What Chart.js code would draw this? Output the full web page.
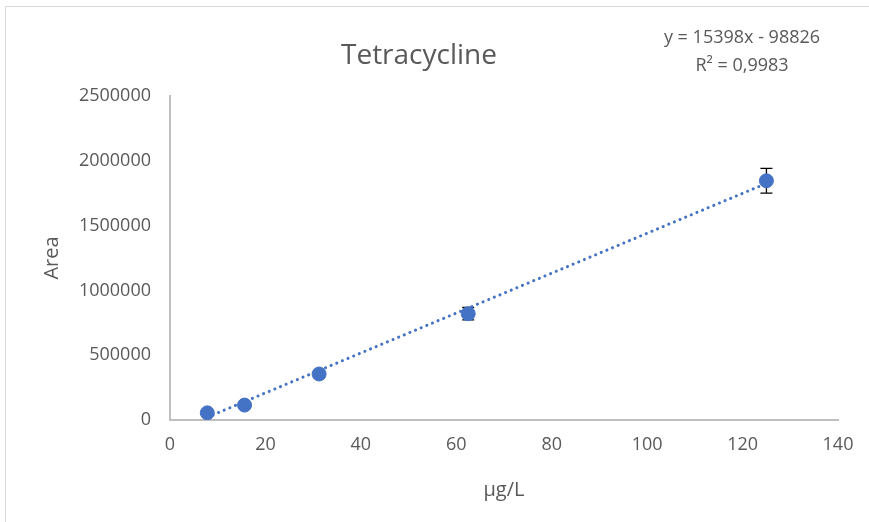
<!DOCTYPE html>
<html>
<head>
<meta charset="utf-8">
<script src="https://cdn.jsdelivr.net/npm/chart.js@4"></script>
<style>
html,body{margin:0;padding:0;background:#fff;}
#wrap{position:relative;width:869px;height:522px;overflow:hidden;}
#frame{position:absolute;left:5px;top:6px;width:900px;height:600px;border:1px solid #d9d9d9;box-sizing:border-box;}
canvas{position:absolute;left:0;top:0;}
</style>
</head>
<body>
<div id="wrap"><div id="frame"></div><canvas id="c" width="869" height="522"></canvas></div>
<script>
const concentrations = [7.8125, 15.625, 31.25, 62.5, 125];
const areas = [55000, 115000, 355000, 820000, 1846000];
const errors = [3000, 4000, 6000, 48000, 95000];
const trendSlope = 15398;
const trendIntercept = -98826;
const equationLines = ['y = 15398x - 98826', 'R\u00b2 = 0,9983'];
const chartTitle = 'Tetracycline';
const xTitle = '\u00b5g/L';
const yTitle = 'Area';

const FONT = "'Open Sans', sans-serif";
const GREY = '#595959';
const BLUE = '#4472C4';

const points = concentrations.map((x, i) => ({x: x, y: areas[i]}));
const trendPoints = [concentrations[0], concentrations[concentrations.length - 1]].map(x => ({x: x, y: trendSlope * x + trendIntercept}));

const errorBarPlugin = {
  id: 'errorBars',
  beforeDatasetsDraw(chart) {
    const {ctx, scales: {x, y}} = chart;
    ctx.save();
    ctx.strokeStyle = '#000';
    ctx.lineWidth = 1.3;
    concentrations.forEach((cx, i) => {
      const px = x.getPixelForValue(cx);
      const top = y.getPixelForValue(areas[i] + errors[i]);
      const bot = y.getPixelForValue(areas[i] - errors[i]);
      ctx.beginPath();
      ctx.moveTo(px, top); ctx.lineTo(px, bot);
      ctx.moveTo(px - 6, top); ctx.lineTo(px + 6, top);
      ctx.moveTo(px - 6, bot); ctx.lineTo(px + 6, bot);
      ctx.stroke();
    });
    ctx.restore();
  }
};

const textPlugin = {
  id: 'texts',
  afterDraw(chart) {
    const ctx = chart.ctx;
    ctx.save();
    ctx.fillStyle = GREY;
    ctx.textAlign = 'center';
    ctx.textBaseline = 'middle';
    ctx.font = "28px " + FONT;
    ctx.fillText(chartTitle, 419, 56);
    ctx.font = "18px " + FONT;
    ctx.fillText(equationLines[0], 742, 38);
    ctx.fillText(equationLines[1], 742, 66);
    ctx.restore();
  }
};

new Chart(document.getElementById('c'), {
  type: 'scatter',
  data: {
    datasets: [
      {
        type: 'line',
        data: trendPoints,
        borderColor: BLUE,
        borderWidth: 3,
        borderDash: [0.1, 6],
        borderCapStyle: 'round',
        pointRadius: 0,
        fill: false,
        order: 2
      },
      {
        data: points,
        backgroundColor: BLUE,
        borderColor: BLUE,
        pointRadius: 7,
        pointHoverRadius: 7,
        order: 1
      }
    ]
  },
  plugins: [errorBarPlugin, textPlugin],
  options: {
    responsive: false,
    animation: false,
    events: [],
    layout: {padding: {left: 0, right: 31, top: 96, bottom: 0}},
    plugins: {legend: {display: false}, tooltip: {enabled: false}, title: {display: false}},
    scales: {
      x: {
        type: 'linear', min: 0, max: 140,
        ticks: {stepSize: 20, color: GREY, font: {family: FONT, size: 18}, padding: 14},
        grid: {display: false, drawTicks: false},
        border: {display: true, color: '#BFBFBF', width: 2},
        title: {display: true, text: xTitle, color: GREY, font: {family: FONT, size: 20}, padding: {top: 0, bottom: 20}},
        afterFit(s) { s.height = 102; }
      },
      y: {
        type: 'linear', min: 0, max: 2500000,
        ticks: {stepSize: 500000, color: GREY, font: {family: FONT, size: 18}, padding: 19,
          callback: v => String(v)},
        grid: {display: false, drawTicks: false},
        border: {display: true, color: '#BFBFBF', width: 2},
        title: {display: true, text: yTitle, color: GREY, font: {family: FONT, size: 20}, padding: {top: 40, bottom: 0}},
        afterFit(s) { s.width = 170; }
      }
    }
  }
});
</script>
</body>
</html>
